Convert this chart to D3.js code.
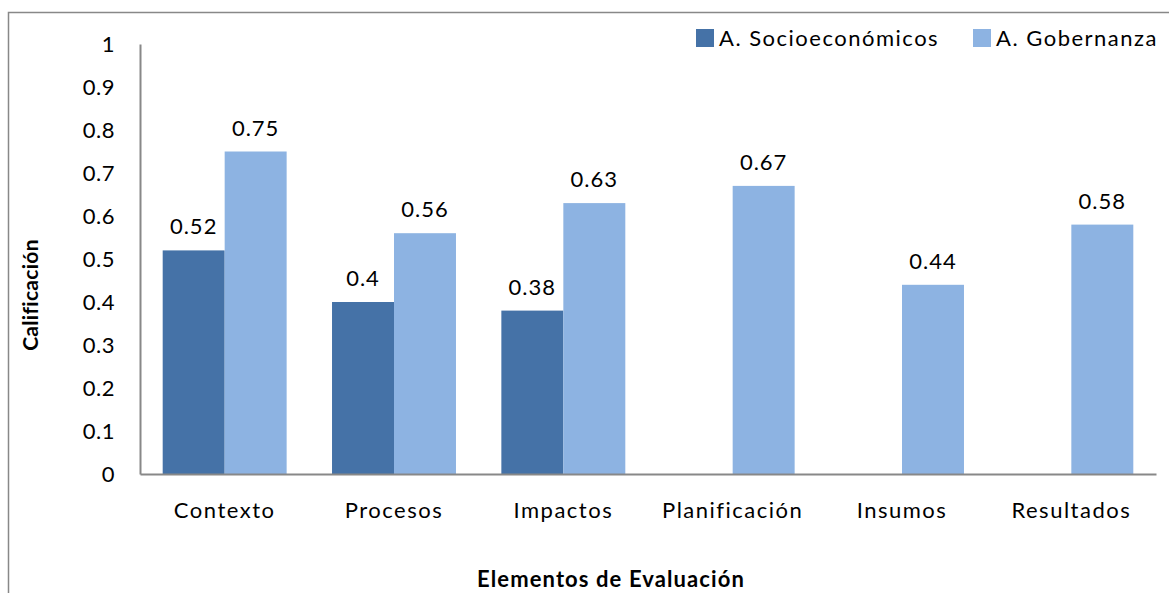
<!DOCTYPE html>
<html><head><meta charset="utf-8">
<script src="https://cdn.jsdelivr.net/npm/d3@7"></script>
<style>body{margin:0;background:#fff}svg{display:block}</style>
</head><body>
<svg id="c" width="1169" height="593"></svg>
<script>
const categories = ["Contexto","Procesos","Impactos","Planificación","Insumos","Resultados"];
const seriesNames = ["A. Socioeconómicos","A. Gobernanza"];
const socio = [0.52,0.4,0.38,null,null,null];
const gober = [0.75,0.56,0.63,0.67,0.44,0.58];
const yTicks = [0,0.1,0.2,0.3,0.4,0.5,0.6,0.7,0.8,0.9,1];
const colors = ["#4572A7","#8DB3E2"];
const font = "Lato, 'Open Sans', sans-serif";

const svg = d3.select("#c");
svg.append("rect").attr("x",8.5).attr("y",12.5).attr("width",1200).attr("height",700)
  .attr("fill","none").attr("stroke","#888").attr("stroke-width",1.5);

const L=140, R=1156, T=44, B=474;
const x0 = d3.scaleBand().domain(categories).range([L,R]).paddingInner(0.268).paddingOuter(0.134);
const x1 = d3.scaleBand().domain([0,1]).range([0,x0.bandwidth()]);
const y = d3.scaleLinear().domain([0,1]).range([B,T]);

const data = [socio,gober];
data.forEach((s,si)=>{
  const g = svg.append("g");
  categories.forEach((c,i)=>{
    const v=s[i]; if(v==null) return;
    g.append("rect").attr("x",x0(c)+x1(si)).attr("width",x1.bandwidth())
      .attr("y",y(v)).attr("height",y(0)-y(v)).attr("fill",colors[si]);
    g.append("text").attr("x",x0(c)+x1(si)+x1.bandwidth()/2).attr("y",y(v)-16)
      .attr("text-anchor","middle").attr("font-family",font).attr("font-size",22)
      .attr("letter-spacing",1).attr("fill","#000").text(String(v));
  });
});

// axes
const ya = svg.append("g").attr("transform",`translate(${L},0)`)
  .call(d3.axisLeft(y).tickValues(yTicks).tickSize(0).tickPadding(25).tickFormat(d=>String(d)));
ya.select(".domain").attr("stroke","#888").attr("stroke-width",2);
ya.selectAll("text").attr("font-family",font).attr("font-size",22).attr("letter-spacing",0.5).attr("fill","#000");

const xa = svg.append("g").attr("transform",`translate(0,${B})`)
  .call(d3.axisBottom(x0).tickSize(0).tickPadding(28));
xa.select(".domain").attr("stroke","#888").attr("stroke-width",2);
xa.selectAll("text").attr("font-family",font).attr("font-size",22).attr("letter-spacing",1.5).attr("fill","#000");

svg.append("text").attr("x",611).attr("y",587).attr("text-anchor","middle")
  .attr("font-family",font).attr("font-weight","bold").attr("font-size",22).attr("letter-spacing",1.1)
  .text("Elementos de Evaluación");
svg.append("text").attr("transform","translate(38,295) rotate(-90)").attr("text-anchor","middle")
  .attr("font-family",font).attr("font-weight","bold").attr("font-size",21).attr("letter-spacing",0.3)
  .text("Calificación");

// legend
const legX=[696,973];
seriesNames.forEach((n,i)=>{
  svg.append("rect").attr("x",legX[i]).attr("y",29).attr("width",18).attr("height",18).attr("fill",colors[i]);
  svg.append("text").attr("x",legX[i]+23).attr("y",46).attr("font-family",font).attr("font-size",22)
    .attr("letter-spacing",1.5).text(n);
});
</script>
</body></html>
